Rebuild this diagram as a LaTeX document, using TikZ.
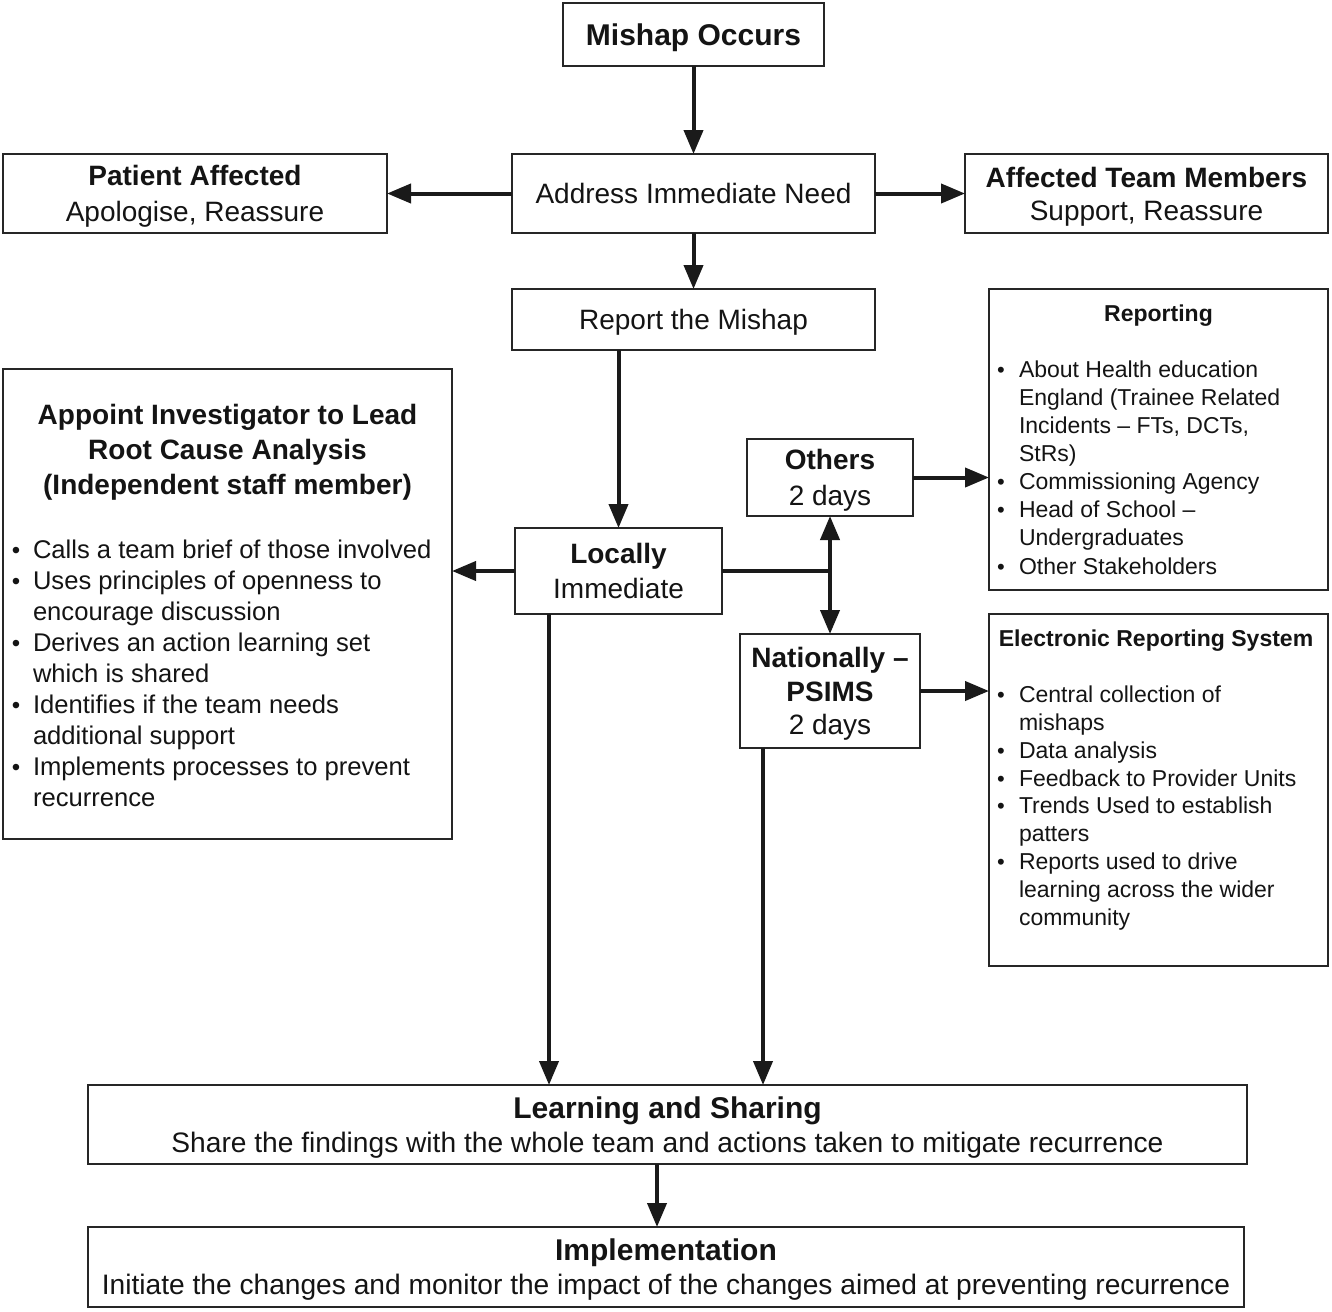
\documentclass[tikz,border=0pt]{standalone}
\usepackage{fontspec}
\setmainfont{Liberation Sans}
\usetikzlibrary{arrows.meta}
\definecolor{boxc}{HTML}{262626}
\definecolor{linec}{HTML}{1A1A1A}
\definecolor{txtc}{HTML}{141414}
\newcommand\myfs[2]{\fontsize{#1}{#2}\selectfont}
\newcommand\bul{\makebox[21pt][l]{\fontsize{24}{24}\selectfont\textbullet}}
\newcommand\bulr{\makebox[22pt][l]{\fontsize{22}{22}\selectfont\textbullet}}
\newcommand\ind{\hspace*{21pt}}
\newcommand\indr{\hspace*{22pt}}
\begin{document}
\begin{tikzpicture}[x=1pt,y=-1pt,
  box/.style={draw=boxc, line width=2.5pt, inner sep=0pt, outer sep=0pt, align=center, fill=white, text=txtc},
  txt/.style={inner sep=0pt, outer sep=0pt, text=txtc},
  arr/.style={line width=4pt, draw=linec, -{Triangle[length=24pt,width=19pt]}},
  ln/.style={line width=4pt, draw=linec}]
\useasboundingbox (0,0) rectangle (1332,1311);

% main column
\node[box, text depth=0pt, minimum width=261pt, minimum height=63pt, font=\bfseries\myfs{30}{36}] (mishap) at (693.5,34.5) {Mishap Occurs};
\node[box, minimum width=363pt, minimum height=79pt, font=\myfs{28}{34}] (address) at (693.5,193.5) {Address Immediate Need};
\node[box, text depth=0pt, minimum width=384pt, minimum height=79pt, font=\myfs{28}{36}] (patient) at (195,193.5) {\textbf{Patient Affected}\\Apologise, Reassure};
\node[box, text depth=0pt, minimum width=363pt, minimum height=79pt, font=\myfs{28}{33}] (team) at (1146.5,193.5) {\textbf{Affected Team Members}\\Support, Reassure};
\node[box, text depth=0pt, minimum width=363pt, minimum height=61pt, font=\myfs{28}{34}] (report) at (693.5,319.5) {Report the Mishap};

% appoint box
\node[box, minimum width=449pt, minimum height=470pt] (appoint) at (227.5,604) {};
\node[txt, align=center, font=\bfseries\myfs{28}{35}] (apptitle) at (227.5,452.5) {Appoint Investigator to Lead\\Root Cause Analysis\\(Independent staff member)};
\node[txt, anchor=west, align=left, font=\myfs{25.6}{31}] (appbul) at (12,673) {\bul Calls a team brief of those involved\\
\bul Uses principles of openness to\\
\ind encourage discussion\\
\bul Derives an action learning set\\
\ind which is shared\\
\bul Identifies if the team needs\\
\ind additional support\\
\bul Implements processes to prevent\\
\ind recurrence};

% locally / others / nationally
\node[box, text depth=0pt, minimum width=207pt, minimum height=86pt, font=\myfs{28}{35}] (locally) at (618.5,571) {\textbf{Locally}\\Immediate};
\node[box, text depth=-4pt, minimum width=166pt, minimum height=77pt, font=\myfs{28}{36}] (others) at (830,477.5) {\textbf{Others}\\2 days};
\node[box, text depth=-4pt, minimum width=180pt, minimum height=114pt, font=\myfs{28}{33.5}] (national) at (830,691) {\textbf{Nationally –}\\\textbf{PSIMS}\\2 days};

% reporting box
\node[box, minimum width=339pt, minimum height=301pt] (reporting) at (1158.5,439.5) {};
\node[txt, font=\bfseries\myfs{23}{28}] (reptitle) at (1158.5,316) {Reporting};
\node[txt, anchor=west, align=left, font=\myfs{23}{28.1}] (repbul) at (997,467.5) {\bulr About Health education\\
\indr England (Trainee Related\\
\indr Incidents – FTs, DCTs,\\
\indr StRs)\\
\bulr Commissioning Agency\\
\bulr Head of School –\\
\indr Undergraduates\\
\bulr Other Stakeholders};

% electronic box
\node[box, minimum width=339pt, minimum height=352pt] (electronic) at (1158.5,790) {};
\node[txt, font=\bfseries\myfs{23}{28}] (eltitle) at (1156,641) {Electronic Reporting System};
\node[txt, anchor=west, align=left, font=\myfs{23}{27.9}] (elbul) at (997,808) {\bulr Central collection of\\
\indr mishaps\\
\bulr Data analysis\\
\bulr Feedback to Provider Units\\
\bulr Trends Used to establish\\
\indr patters\\
\bulr Reports used to drive\\
\indr learning across the wider\\
\indr community};

% bottom boxes
\node[box, text depth=0pt, minimum width=1159pt, minimum height=79pt, font=\myfs{28.15}{34}] (learning) at (667.5,1124.5) {{\bfseries\myfs{30}{34}Learning and Sharing}\\Share the findings with the whole team and actions taken to mitigate recurrence};
\node[box, text depth=0pt, minimum width=1156pt, minimum height=80pt, font=\myfs{28.15}{34}] (impl) at (666,1267) {{\bfseries\myfs{30}{34}Implementation}\\Initiate the changes and monitor the impact of the changes aimed at preventing recurrence};

% connectors
\draw[arr] (mishap.south) -- (address.north);
\draw[arr] (address.west) -- (patient.east);
\draw[arr] (address.east) -- (team.west);
\draw[arr] (address.south) -- (report.north);
\draw[arr] (report.south -| locally.north) -- (locally.north);
\draw[arr] (locally.west) -- (locally.west -| appoint.east);
\coordinate (J) at (others.south |- locally.east);
\draw[ln] (locally.east) -- (J);
\draw[arr] (J) -- (others.south);
\draw[arr] (J) -- (national.north);
\draw[arr] (others.east) -- (others.east -| reporting.west);
\draw[arr] (national.east) -- (national.east -| electronic.west);
\coordinate (Lout) at ([xshift=34pt]locally.south west);
\draw[arr] (Lout) -- (Lout |- learning.north);
\coordinate (Nout) at ([xshift=23pt]national.south west);
\draw[arr] (Nout) -- (Nout |- learning.north);
\coordinate (Sout) at ([xshift=-10.5pt]learning.south);
\draw[arr] (Sout) -- (Sout |- impl.north);
\end{tikzpicture}
\end{document}
